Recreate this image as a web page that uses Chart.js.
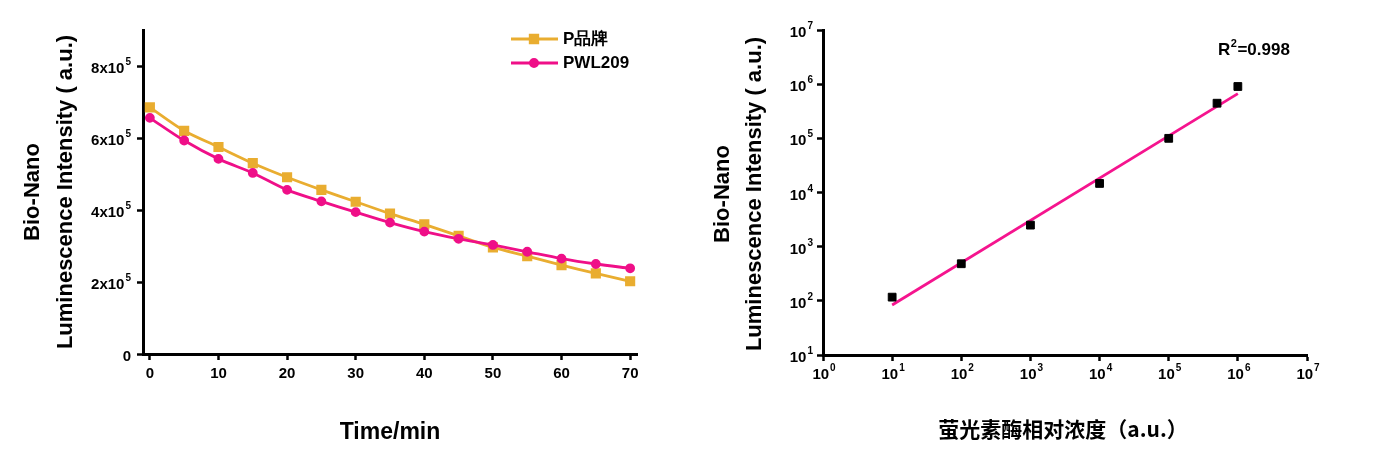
<!DOCTYPE html>
<html lang="zh">
<head>
    <meta charset="UTF-8">
    <title>Bio-Nano 发光强度</title>
    <style>
        body {
            margin: 0;
            background-color: #fff;
        }
        .wrap {
            position: absolute;
            top: 0;
            height: 464px;
        }
        #leftWrap { left: 0; width: 690px; }
        #rightWrap { left: 690px; width: 685px; }
    </style>
</head>
<body>
    <div class="wrap" id="leftWrap"><canvas id="decayChart" width="690" height="464"></canvas></div>
    <div class="wrap" id="rightWrap"><canvas id="stdChart" width="685" height="464"></canvas></div>

    <script src="https://cdn.jsdelivr.net/npm/chart.js"></script>
    <script>
        // ---- left panel: signal vs time ----
        const timeMin = [0, 5, 10, 15, 20, 25, 30, 35, 40, 45, 50, 55, 60, 65, 70];
        const pBrand = [685000, 620000, 575000, 530000, 491000, 456000, 423000, 390000, 360000, 328000, 296000, 272000, 247000, 224000, 202000];
        const pwl209 = [656000, 593000, 542000, 503000, 456000, 424000, 394000, 365000, 340000, 320000, 303000, 284000, 265000, 250000, 238000];
        const seriesNames = ['P品牌', 'PWL209'];
        const leftYTicks = [0, 200000, 400000, 600000, 800000];
        const leftYLabels = [['0', ''], ['2x10', '5'], ['4x10', '5'], ['6x10', '5'], ['8x10', '5']];
        const leftXTicks = [0, 10, 20, 30, 40, 50, 60, 70];

        // ---- right panel: standard curve (log-log) ----
        const concentration = [10, 100, 1000, 10000, 100000, 500000, 1000000];
        const intensity = [117, 484, 2500, 14700, 100000, 445000, 906000];
        const fitX = [10, 1000000];
        const fitY = [84, 670000];
        const decadesX = [1, 10, 100, 1000, 10000, 100000, 1000000, 10000000];
        const decadesXExp = ['0', '1', '2', '3', '4', '5', '6', '7'];
        const decadesY = [10, 100, 1000, 10000, 100000, 1000000, 10000000];
        const decadesYExp = ['1', '2', '3', '4', '5', '6', '7'];
        const r2Text = ['R', '2', '=0.998'];

        const FONT = 'Arial, "Liberation Sans", sans-serif';
        const ORANGE = '#E9AD30';
        const PINK = '#EF0F88';
        const FIT_PINK = '#F5148E';

        // label with a raised exponent, e.g. 10^5
        function supLabel(ctx, base, exp, x, y, align, size) {
            ctx.font = 'bold ' + size + 'px ' + FONT;
            const wb = ctx.measureText(base).width;
            const es = Math.round(size * 0.68);
            ctx.font = 'bold ' + es + 'px ' + FONT;
            const we = exp ? ctx.measureText(exp).width + 1 : 0;
            const total = wb + we;
            const x0 = align === 'right' ? x - total : x - total / 2;
            ctx.textAlign = 'left';
            ctx.textBaseline = 'middle';
            ctx.font = 'bold ' + size + 'px ' + FONT;
            ctx.fillText(base, x0, y);
            if (exp) {
                ctx.font = 'bold ' + es + 'px ' + FONT;
                ctx.fillText(exp, x0 + wb + 1, y - size * 0.45);
            }
        }

        function vText(ctx, text, x, cy, size) {
            ctx.save();
            ctx.translate(x, cy);
            ctx.rotate(-Math.PI / 2);
            ctx.font = 'bold ' + size + 'px ' + FONT;
            ctx.textAlign = 'center';
            ctx.textBaseline = 'alphabetic';
            ctx.fillText(text, 0, 0);
            ctx.restore();
        }

        function axisStyle(extra) {
            return Object.assign({
                border: { display: true, color: '#000', width: 3 },
                grid: { display: true, drawOnChartArea: false, drawTicks: true, tickLength: 6, tickWidth: 2.5, tickColor: '#000' },
                ticks: { display: false, includeBounds: false }
            }, extra);
        }

        const leftText = {
            id: 'leftText',
            afterDraw(chart) {
                const ctx = chart.ctx;
                const xs = chart.scales.x, ys = chart.scales.y;
                ctx.save();
                ctx.fillStyle = '#000';
                leftYTicks.forEach((v, i) => supLabel(ctx, leftYLabels[i][0], leftYLabels[i][1], 131, ys.getPixelForValue(v) + 3, 'right', 15));
                leftXTicks.forEach(v => supLabel(ctx, String(v), '', xs.getPixelForValue(v), 374, 'center', 15));
                vText(ctx, 'Bio-Nano', 39, 192, 22);
                vText(ctx, 'Luminescence Intensity ( a.u.)', 72, 192, 22);
                ctx.font = 'bold 23px ' + FONT;
                ctx.textAlign = 'center';
                ctx.textBaseline = 'alphabetic';
                ctx.fillText('Time/min', 390, 439);

                // legend
                chart.data.datasets.forEach((ds, i) => {
                    const y = 39 + i * 24;
                    ctx.strokeStyle = ds.borderColor;
                    ctx.lineWidth = 3;
                    ctx.beginPath();
                    ctx.moveTo(511, y);
                    ctx.lineTo(558, y);
                    ctx.stroke();
                    ctx.fillStyle = ds.pointBackgroundColor;
                    Chart.helpers.drawPoint(ctx, { pointStyle: ds.pointStyle, radius: ds.pointRadius, borderWidth: 1, rotation: 0 }, 534, y);
                    ctx.fillStyle = '#000';
                    ctx.font = 'bold 17px ' + FONT;
                    ctx.textAlign = 'left';
                    ctx.textBaseline = 'middle';
                    ctx.fillText(ds.label, 563, y);
                });
                ctx.restore();
            }
        };

        new Chart(document.getElementById('decayChart'), {
            type: 'line',
            data: {
                datasets: [{
                    label: seriesNames[0],
                    data: timeMin.map((t, i) => ({ x: t, y: pBrand[i] })),
                    borderColor: ORANGE,
                    backgroundColor: ORANGE,
                    pointBackgroundColor: ORANGE,
                    pointBorderColor: ORANGE,
                    pointStyle: 'rect',
                    pointRadius: 5.2,
                    borderWidth: 2.8,
                    tension: 0.3,
                    order: 2
                }, {
                    label: seriesNames[1],
                    data: timeMin.map((t, i) => ({ x: t, y: pwl209[i] })),
                    borderColor: PINK,
                    backgroundColor: PINK,
                    pointBackgroundColor: PINK,
                    pointBorderColor: PINK,
                    pointStyle: 'circle',
                    pointRadius: 3.5,
                    borderWidth: 2.8,
                    tension: 0.3,
                    order: 1
                }]
            },
            options: {
                responsive: false,
                animation: false,
                clip: false,
                layout: { padding: { top: 30, right: 53, bottom: 0, left: 0 } },
                plugins: { legend: { display: false }, tooltip: { enabled: false } },
                scales: {
                    x: axisStyle({
                        type: 'linear', min: -1, max: 71,
                        afterBuildTicks: s => { s.ticks = leftXTicks.map(v => ({ value: v })); },
                        afterFit: s => { s.height = 110; }
                    }),
                    y: axisStyle({
                        type: 'linear', min: 0, max: 900000,
                        afterBuildTicks: s => { s.ticks = leftYTicks.map(v => ({ value: v })); },
                        afterFit: s => { s.width = 143; }
                    })
                }
            },
            plugins: [leftText]
        });

        const rightText = {
            id: 'rightText',
            afterDraw(chart) {
                const ctx = chart.ctx;
                const xs = chart.scales.x, ys = chart.scales.y;
                ctx.save();
                ctx.fillStyle = '#000';
                decadesY.forEach((v, i) => supLabel(ctx, '10', decadesYExp[i], 123, ys.getPixelForValue(v) + 3, 'right', 15));
                decadesX.forEach((v, i) => supLabel(ctx, '10', decadesXExp[i], xs.getPixelForValue(v) + 1, 375, 'center', 15));
                vText(ctx, 'Bio-Nano', 39, 194, 22);
                vText(ctx, 'Luminescence Intensity ( a.u.)', 71, 194, 22);
                ctx.font = 'bold 21px "Noto Sans CJK SC", ' + FONT;
                ctx.textAlign = 'center';
                ctx.textBaseline = 'alphabetic';
                ctx.fillText('萤光素酶相对浓度（a.u.）', 373, 437);

                // R^2 note
                ctx.font = 'bold 17px ' + FONT;
                ctx.textAlign = 'left';
                ctx.textBaseline = 'alphabetic';
                let x = 528;
                ctx.fillText(r2Text[0], x, 55);
                x += ctx.measureText(r2Text[0]).width;
                ctx.font = 'bold 11px ' + FONT;
                ctx.fillText(r2Text[1], x + 0.5, 47);
                x += ctx.measureText(r2Text[1]).width + 1;
                ctx.font = 'bold 17px ' + FONT;
                ctx.fillText(r2Text[2], x, 55);
                ctx.restore();
            }
        };

        new Chart(document.getElementById('stdChart'), {
            type: 'scatter',
            data: {
                datasets: [{
                    label: 'data',
                    data: concentration.map((c, i) => ({ x: c, y: intensity[i] })),
                    backgroundColor: '#000',
                    borderColor: '#000',
                    pointStyle: 'rect',
                    pointRadius: 5.5,
                    order: 1
                }, {
                    label: 'fit',
                    type: 'line',
                    data: fitX.map((c, i) => ({ x: c, y: fitY[i] })),
                    borderColor: FIT_PINK,
                    borderWidth: 2.8,
                    pointRadius: 0,
                    showLine: true,
                    fill: false,
                    order: 2
                }]
            },
            options: {
                responsive: false,
                animation: false,
                clip: false,
                layout: { padding: { top: 30, right: 68, bottom: 0, left: 0 } },
                plugins: { legend: { display: false }, tooltip: { enabled: false } },
                scales: {
                    x: axisStyle({
                        type: 'logarithmic', min: 1, max: 10000000,
                        afterBuildTicks: s => { s.ticks = decadesX.map(v => ({ value: v })); },
                        afterFit: s => { s.height = 109; }
                    }),
                    y: axisStyle({
                        type: 'logarithmic', min: 10, max: 10000000,
                        afterBuildTicks: s => { s.ticks = decadesY.map(v => ({ value: v })); },
                        afterFit: s => { s.width = 133; }
                    })
                }
            },
            plugins: [rightText]
        });
    </script>
</body>
</html>
